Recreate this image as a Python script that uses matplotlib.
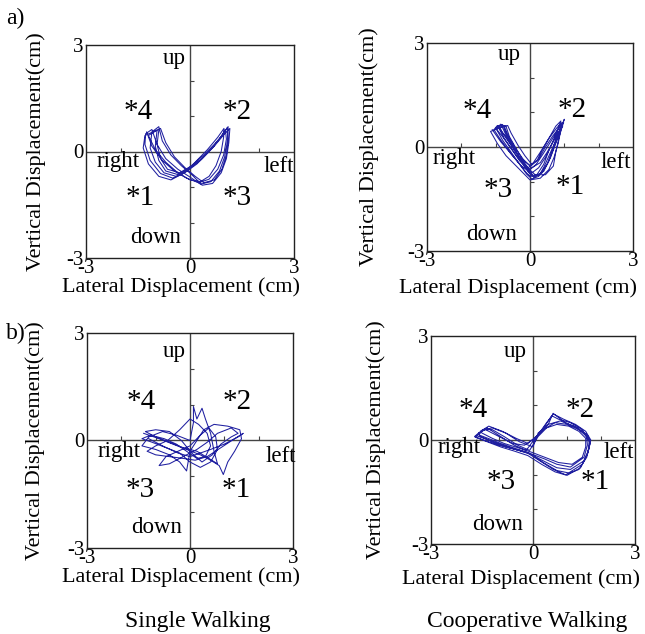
import matplotlib
matplotlib.use("Agg")
import matplotlib.pyplot as plt

plt.rcParams['font.family'] = ['Liberation Serif', 'DejaVu Serif']

# ---------------- data (cm) ----------------
# a) Single walking
a_single_x = [-1.25, -1.1, -0.8, -0.45, -0.1, 0.25, 0.55, 0.8, 0.97, 1.05, 1.02, 0.85, 0.55, 0.2, -0.15, -0.5, -0.85, -1.15, -1.3, -1.28,
              -1.1, -0.95, -0.7, -0.35, 0.0, 0.3, 0.6, 0.85, 1.0, 1.08, 1.1, 0.92, 0.65, 0.3, -0.05, -0.4, -0.75, -1.0, -1.15, -1.1,
              -0.9, -0.8, -0.55, -0.25, 0.05, 0.35, 0.65, 0.9, 1.05, 1.12, 1.15, 1.0, 0.7, 0.35, 0.0, -0.35, -0.7, -0.9, -1.0, -0.95,
              -1.2, -1.0, -0.7, -0.35, 0.0, 0.3, 0.55, 0.75, 0.9, 0.97, 0.98, 0.8, 0.5, 0.15, -0.2, -0.55, -0.9, -1.2, -1.35, -1.3,
              -0.85, -0.7, -0.45, -0.15, 0.15, 0.4, 0.7, 0.92, 1.05, 1.1, 1.08, 0.95, 0.7, 0.4, 0.05, -0.3, -0.65, -0.85, -0.95, -0.9]
a_single_y = [0.55, 0.15, -0.25, -0.55, -0.75, -0.88, -0.78, -0.5, -0.1, 0.35, 0.62, 0.35, 0.0, -0.35, -0.6, -0.75, -0.62, -0.25, 0.2, 0.5,
              0.62, 0.2, -0.2, -0.5, -0.72, -0.92, -0.85, -0.55, -0.15, 0.3, 0.7, 0.45, 0.1, -0.25, -0.5, -0.7, -0.6, -0.3, 0.1, 0.55,
              0.7, 0.3, -0.1, -0.4, -0.65, -0.95, -0.9, -0.6, -0.2, 0.25, 0.65, 0.5, 0.15, -0.2, -0.45, -0.65, -0.55, -0.25, 0.15, 0.6,
              0.45, 0.05, -0.3, -0.6, -0.8, -0.85, -0.7, -0.4, 0.0, 0.4, 0.65, 0.4, 0.05, -0.3, -0.62, -0.8, -0.7, -0.35, 0.1, 0.45,
              0.65, 0.25, -0.15, -0.45, -0.7, -0.88, -0.8, -0.5, -0.1, 0.3, 0.68, 0.48, 0.2, -0.1, -0.4, -0.6, -0.5, -0.2, 0.2, 0.6]

# a) Cooperative walking
a_coop_x = [-1.1, -0.85, -0.55, -0.3, -0.1, 0.05, 0.25, 0.42, 0.6, 0.8, 0.95, 0.82, 0.6, 0.38, 0.18, 0.0, -0.2, -0.45, -0.7, -0.95,
            -0.8, -0.65, -0.45, -0.25, -0.05, 0.1, 0.35, 0.55, 0.7, 0.85, 1.0, 0.9, 0.7, 0.5, 0.3, 0.05, -0.2, -0.45, -0.65, -0.75,
            -1.15, -0.95, -0.7, -0.4, -0.15, 0.0, 0.3, 0.55, 0.7, 0.82, 0.9, 0.8, 0.62, 0.45, 0.25, 0.05, -0.25, -0.55, -0.85, -1.05,
            -0.95, -0.75, -0.5, -0.25, -0.05, 0.12, 0.4, 0.6, 0.75, 0.88, 0.92, 0.78, 0.55, 0.35, 0.2, 0.02, -0.3, -0.55, -0.8, -0.9,
            -0.7, -0.6, -0.4, -0.2, -0.02, 0.15, 0.45, 0.68, 0.75, 0.85, 0.98, 0.88, 0.65, 0.45, 0.25, 0.05, -0.15, -0.35, -0.55, -0.65,
            -1.0, -0.8, -0.55, -0.3, -0.1, 0.02, 0.2, 0.4, 0.55, 0.75, 0.9, 0.75, 0.55, 0.3, 0.1, -0.05, -0.3, -0.55, -0.8, -0.98,
            -0.85, -0.7, -0.5, -0.28, -0.08, 0.08, 0.3, 0.5, 0.65, 0.8, 0.95]
a_coop_y = [0.5, 0.15, -0.2, -0.5, -0.78, -0.92, -0.85, -0.55, -0.15, 0.3, 0.7, 0.5, 0.15, -0.2, -0.5, -0.65, -0.45, -0.1, 0.3, 0.6,
            0.65, 0.3, -0.05, -0.4, -0.7, -0.85, -0.75, -0.4, 0.0, 0.4, 0.8, 0.55, 0.2, -0.15, -0.45, -0.6, -0.35, 0.0, 0.35, 0.6,
            0.45, 0.1, -0.25, -0.55, -0.8, -0.95, -0.9, -0.65, -0.3, 0.1, 0.5, 0.4, 0.05, -0.3, -0.6, -0.75, -0.55, -0.2, 0.2, 0.5,
            0.62, 0.25, -0.1, -0.45, -0.72, -0.88, -0.7, -0.3, 0.1, 0.45, 0.7, 0.55, 0.25, -0.1, -0.4, -0.55, -0.3, 0.05, 0.4, 0.62,
            0.6, 0.3, -0.05, -0.4, -0.65, -0.8, -0.8, -0.55, -0.15, 0.3, 0.72, 0.6, 0.3, 0.0, -0.35, -0.5, -0.25, 0.05, 0.4, 0.62,
            0.55, 0.2, -0.15, -0.5, -0.75, -0.85, -0.8, -0.5, -0.1, 0.35, 0.75, 0.6, 0.25, -0.15, -0.45, -0.6, -0.4, -0.05, 0.3, 0.52,
            0.66, 0.35, 0.0, -0.35, -0.6, -0.82, -0.78, -0.5, -0.1, 0.35, 0.6]

# b) Single walking
b_single_x = [-1.35, -0.9, -0.5, -0.1, 0.3, 0.6, 0.85, 0.97, 1.1, 1.3, 1.5, 1.45, 1.1, 0.7, 0.4, 0.2, 0.0, -0.1, -0.3, -0.6,
              -1.0, -1.4, -1.2, -0.8, -0.4, 0.0, 0.1, 0.1, 0.2, 0.35, 0.45, 0.6, 0.7, 0.8, 0.55, 0.2, -0.2, -0.6, -1.0, -1.3,
              -1.0, -0.6, -0.25, 0.05, 0.35, 0.65, 0.9, 1.2, 1.4, 1.2, 0.8, 0.5, 0.2, -0.2, -0.6, -0.9, -0.7, -0.35, 0.0, 0.3,
              0.55, 0.75, 0.8, 0.6, 0.3, 0.0, -0.3, -0.7, -1.1, -1.4, -1.15, -0.75, -0.4, -0.1, 0.2, 0.45, 0.6, 0.5, 0.25, 0.0,
              -0.3, -0.65, -1.0, -1.25, -1.0, -0.6, -0.2, 0.15, 0.5, 0.9, 1.3, 1.55, 1.4, 1.0, 0.6, 0.3, 0.0, -0.35, -0.8, -1.2]
b_single_y = [0.2, 0.05, -0.1, -0.25, -0.4, -0.55, -0.7, -0.95, -0.6, -0.3, 0.05, 0.3, 0.4, 0.45, 0.3, 0.0, -0.3, -0.85, -0.6, -0.4,
              -0.25, -0.15, 0.1, 0.25, 0.15, 0.0, 0.5, 0.95, 0.6, 0.9, 0.6, 0.2, -0.3, -0.65, -0.5, -0.3, -0.2, -0.05, 0.1, 0.25,
              0.3, 0.25, 0.0, -0.35, -0.6, -0.4, -0.1, 0.1, 0.2, 0.35, 0.2, -0.05, -0.25, -0.45, -0.65, -0.7, -0.45, -0.3, -0.15, 0.15,
              0.35, 0.1, -0.25, -0.6, -0.75, -0.6, -0.35, -0.2, -0.05, 0.05, 0.15, 0.05, -0.1, -0.3, -0.5, -0.45, -0.15, 0.2, 0.45, 0.6,
              0.3, 0.0, -0.15, -0.3, -0.4, -0.45, -0.5, -0.55, -0.45, -0.2, 0.05, 0.2, 0.1, -0.1, -0.25, -0.35, -0.45, -0.35, -0.15, 0.05]

# b) Cooperative walking
b_coop_x = [-1.65, -1.3, -0.9, -0.5, -0.1, 0.3, 0.7, 1.1, 1.5, 1.65, 1.68, 1.5, 1.2, 0.8, 0.45, 0.15, 0.0, -0.4, -0.8, -1.2, -1.5,
            -1.7, -1.35, -0.95, -0.55, -0.15, 0.25, 0.65, 1.0, 1.4, 1.6, 1.7, 1.55, 1.25, 0.9, 0.6, 0.4, 0.15, -0.15, -0.5, -0.9, -1.3, -1.55,
            -1.5, -1.2, -0.85, -0.45, -0.05, 0.35, 0.75, 1.15, 1.45, 1.55, 1.55, 1.35, 1.05, 0.7, 0.4, 0.15, -0.1, -0.45, -0.85, -1.2, -1.45,
            -1.6, -1.25, -0.9, -0.5, -0.1, 0.3, 0.7, 1.05, 1.45, 1.62, 1.65, 1.45, 1.1, 0.75, 0.55, 0.35, 0.1, -0.2, -0.55, -0.95, -1.35, -1.6,
            -1.55, -1.2, -0.8, -0.4, 0.0, 0.35, 0.7, 1.1, 1.5, 1.6, 1.58, 1.35, 1.0, 0.65, 0.3, 0.05, -0.25, -0.6, -1.0, -1.4, -1.6,
            -1.72, -1.4, -1.0, -0.6, -0.2, 0.2, 0.6, 0.95, 1.35, 1.58, 1.68, 1.6, 1.3, 0.95, 0.59, 0.45, 0.2, 0.0]
b_coop_y = [0.12, 0.0, -0.15, -0.28, -0.4, -0.6, -0.8, -0.85, -0.6, -0.25, 0.0, 0.2, 0.4, 0.55, 0.45, 0.2, -0.2, -0.05, 0.2, 0.35, 0.28,
            0.08, -0.05, -0.2, -0.32, -0.45, -0.7, -0.92, -1.02, -0.8, -0.4, 0.0, 0.25, 0.45, 0.6, 0.75, 0.5, 0.15, -0.1, 0.05, 0.25, 0.4, 0.25,
            0.2, 0.05, -0.1, -0.22, -0.35, -0.5, -0.65, -0.7, -0.5, -0.2, 0.05, 0.25, 0.4, 0.45, 0.35, 0.1, -0.3, -0.15, 0.1, 0.3, 0.3,
            0.15, 0.02, -0.12, -0.25, -0.38, -0.65, -0.88, -0.95, -0.7, -0.35, -0.05, 0.3, 0.5, 0.6, 0.7, 0.4, 0.1, -0.3, -0.15, 0.1, 0.35, 0.2,
            0.1, -0.05, -0.2, -0.3, -0.42, -0.55, -0.7, -0.78, -0.5, -0.15, 0.1, 0.3, 0.45, 0.5, 0.3, 0.05, -0.15, -0.1, 0.1, 0.3, 0.2,
            0.1, -0.02, -0.15, -0.25, -0.35, -0.6, -0.85, -1.0, -0.85, -0.5, -0.1, 0.15, 0.35, 0.5, 0.77, 0.45, 0.2, -0.05]

tick_vals = [-3, 0, 3]
tick_labels = ['-3', '0', '3']
minor_vals = [-2, -1, 1, 2]

# panel text positions: (text, x, y) in data units
labels_a_single = [("up", -0.46, 2.62), ("down", -0.98, -2.43), ("right", -2.07, -0.28), ("left", 2.57, -0.42),
                   ("*4", -1.49, 1.12), ("*2", 1.35, 1.12), ("*1", -1.44, -1.31), ("*3", 1.35, -1.31)]
labels_a_coop = [("up", -0.6, 2.67), ("down", -1.11, -2.53), ("right", -2.2, -0.32), ("left", 2.49, -0.44),
                 ("*4", -1.55, 1.03), ("*2", 1.24, 1.08), ("*3", -0.92, -1.23), ("*1", 1.18, -1.14)]
labels_b_single = [("up", -0.45, 2.48), ("down", -0.97, -2.43), ("right", -2.05, -0.31), ("left", 2.64, -0.45),
                   ("*4", -1.42, 1.07), ("*2", 1.36, 1.07), ("*3", -1.45, -1.38), ("*1", 1.36, -1.38)]
labels_b_coop = [("up", -0.51, 2.55), ("down", -1.03, -2.43), ("right", -2.16, -0.22), ("left", 2.53, -0.35),
                 ("*4", -1.76, 0.87), ("*2", 1.40, 0.87), ("*3", -0.95, -1.2), ("*1", 1.84, -1.2)]

W, H = 645, 634
fig = plt.figure(figsize=(W / 100, H / 100), dpi=100)

def px_axes(l, t, r, b):
    return fig.add_axes([l / W, 1 - b / H, (r - l) / W, (b - t) / H])

panels = [
    (px_axes(86, 45, 294, 258), a_single_x, a_single_y, labels_a_single, (0.457, -0.135), (-0.24, 0.5)),
    (px_axes(427, 43, 633, 251), a_coop_x, a_coop_y, labels_a_coop, (0.44, -0.18), (-0.28, 0.5)),
    (px_axes(87, 333, 293, 548), b_single_x, b_single_y, labels_b_single, (0.457, -0.135), (-0.25, 0.5)),
    (px_axes(431, 336, 635, 544), b_coop_x, b_coop_y, labels_b_coop, (0.44, -0.17), (-0.27, 0.5)),
]

line_color = '#1f1fa0'
for ax, xs, ys, labs, xlc, ylc in panels:
    ax.set_xlim(-3, 3)
    ax.set_ylim(-3, 3)
    ax.axhline(0, color='#444444', lw=1.0, zorder=1)
    ax.axvline(0, color='#444444', lw=1.0, zorder=1)
    ax.plot([0] * len(minor_vals), minor_vals, linestyle='none', marker=1, ms=3, color='#444444', mew=0.8)
    ax.plot(minor_vals, [0] * len(minor_vals), linestyle='none', marker=2, ms=3, color='#444444', mew=0.8)
    ax.plot(xs, ys, color=line_color, lw=0.75, zorder=3)
    for t, x, y in labs:
        fs = 21 if t.startswith('*') else 16.5
        ax.text(x, y, t, fontsize=fs, ha='center', va='center')
    ax.set_xticks(tick_vals)
    ax.set_xticklabels(tick_labels)
    ax.set_yticks(tick_vals)
    ax.set_yticklabels(tick_labels)
    ax.tick_params(length=0, labelsize=15, pad=1)
    ax.tick_params(axis='y', pad=2)
    for lab in ax.get_yticklabels():
        lab.set_va('center_baseline')
    for s in ax.spines.values():
        s.set_color('#222222')
        s.set_linewidth(1.0)
    ax.set_xlabel('Lateral Displacement (cm)', fontsize=16)
    ax.xaxis.label.set_va('center')
    ax.xaxis.set_label_coords(*xlc)
    ax.set_ylabel('Vertical Displacement(cm)', fontsize=16)
    ax.yaxis.label.set_va('center')
    ax.yaxis.set_label_coords(*ylc)

fig.text(15 / W, 1 - 18 / H, 'a)', fontsize=17, ha='center', va='center')
fig.text(16 / W, 1 - 333 / H, 'b)', fontsize=17, ha='center', va='center')
fig.text(198 / W, 1 - 627 / H, 'Single Walking', fontsize=17, ha='center', va='baseline')
fig.text(527 / W, 1 - 627 / H, 'Cooperative Walking', fontsize=17, ha='center', va='baseline')

fig.savefig('out.png', dpi=100)
